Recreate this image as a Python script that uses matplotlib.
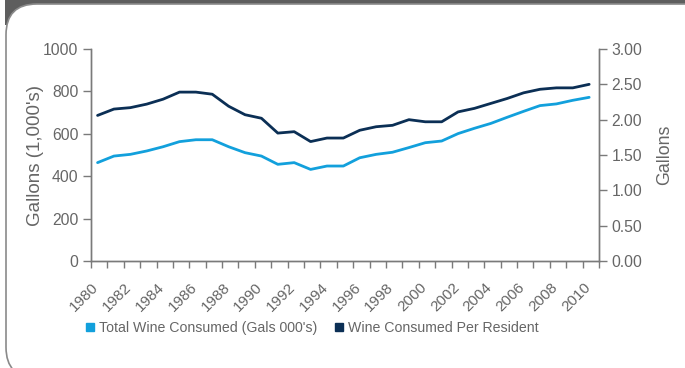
#!/usr/bin/env python3

import numpy as np
import matplotlib.pyplot as plt
import matplotlib.transforms as mtransforms
from matplotlib.lines import Line2D
from matplotlib.patches import FancyBboxPatch, Rectangle

years = list(range(1980, 2011))
total_wine = [464, 495, 503, 519, 539, 563, 572, 572, 539, 511, 495, 456, 464, 432,
              448, 448, 487, 503, 513, 535, 558, 566, 601, 626, 649, 678, 706, 733,
              741, 758, 772]
per_resident = [2.06, 2.15, 2.17, 2.22, 2.29, 2.39, 2.39, 2.36, 2.19, 2.07, 2.02, 1.81,
                1.83, 1.69, 1.74, 1.74, 1.85, 1.90, 1.92, 2.00, 1.97, 1.97, 2.11, 2.16,
                2.23, 2.30, 2.38, 2.43, 2.45, 2.45, 2.50]
left_ticks = [0, 200, 400, 600, 800, 1000]
right_ticks = [0.0, 0.5, 1.0, 1.5, 2.0, 2.5, 3.0]

light = '#12a0dc'
dark = '#0b2f55'
grey = '#666666'
spine = '#7a7a7a'

plt.rcParams['font.family'] = ['Liberation Sans', 'DejaVu Sans']

W, H = 685, 368
fig = plt.figure(figsize=(W / 100, H / 100), dpi=100)
fig.patch.set_facecolor('white')

# dark header band + rounded white panel
fig.add_artist(Rectangle((5 / W, 1 - 25 / H), 1, 25 / H, transform=fig.transFigure,
                         facecolor='#5e5e5e', edgecolor='none', zorder=-3))
fig.add_artist(FancyBboxPatch((6 / W, -10 / H), (W + 30) / W, (H + 6) / H,
                              boxstyle='round,pad=0,rounding_size=0.045',
                              mutation_aspect=W / H,
                              transform=fig.transFigure, facecolor='white',
                              edgecolor='#8a8a8a', linewidth=1.2, zorder=-2))

ax = fig.add_axes([91 / W, 1 - 261 / H, 508 / W, 212 / H])
ax.patch.set_alpha(0)
ax2 = ax.twinx()

x = np.arange(len(years))
ax.plot(x, total_wine, color=light, lw=2.0, solid_capstyle='round')
ax2.plot(x, per_resident, color=dark, lw=2.0, solid_capstyle='round')

ax.set_xlim(-0.4, len(years) - 0.4)
ax.set_ylim(0, 1000)
ax2.set_ylim(0, 3)

ax.set_xticks(x[::2])
ax.set_xticklabels([str(y) for y in years[::2]], rotation=45, ha='right',
                   va='top', rotation_mode='anchor', color=grey, fontsize=11)
ax.set_xticks(np.arange(len(years) + 1) - 0.4, minor=True)
ax.tick_params(axis='x', which='major', length=0, pad=9)
ax.tick_params(axis='x', which='minor', length=5, width=1, color=spine)
shift = mtransforms.ScaledTranslation(-6 / 100, -7 / 100, fig.dpi_scale_trans)
for lab in ax.get_xticklabels():
    lab.set_transform(lab.get_transform() + shift)

ax.set_yticks(left_ticks)
ax.tick_params(axis='y', length=6, width=1, color=spine, labelcolor=grey,
               labelsize=11.3, pad=3)
ax2.set_yticks(right_ticks)
ax2.set_yticklabels(['%.2f' % t for t in right_ticks])
ax2.tick_params(axis='y', length=6, width=1, color=spine, labelcolor=grey,
                labelsize=11.3, pad=3)

for a in (ax, ax2):
    a.spines['top'].set_visible(False)
    for s in ('left', 'right', 'bottom'):
        a.spines[s].set_color(spine)
        a.spines[s].set_linewidth(1)

ax.set_ylabel("Gallons (1,000's)", color=grey, fontsize=13.5)
ax.yaxis.set_label_coords((35 - 91) / 508, 0.5)
ax2.set_ylabel('Gallons', color=grey, fontsize=12.8)
ax2.yaxis.set_label_coords((665 - 91) / 508, 0.5)
ax.yaxis.label.set_va('center')
ax2.yaxis.label.set_va('center')

handles = [Line2D([], [], ls='none', marker='s', ms=6, color=light),
           Line2D([], [], ls='none', marker='s', ms=6, color=dark)]
leg = fig.legend(handles, ["Total Wine Consumed (Gals 000's)", 'Wine Consumed Per Resident'],
                 loc='center', bbox_to_anchor=(311 / W, 1 - 328 / H), ncol=2,
                 frameon=False, fontsize=10.2, handletextpad=0.15, columnspacing=1.0,
                 handlelength=1.0)
for t in leg.get_texts():
    t.set_color(grey)

plt.savefig('out.png', dpi=100)
